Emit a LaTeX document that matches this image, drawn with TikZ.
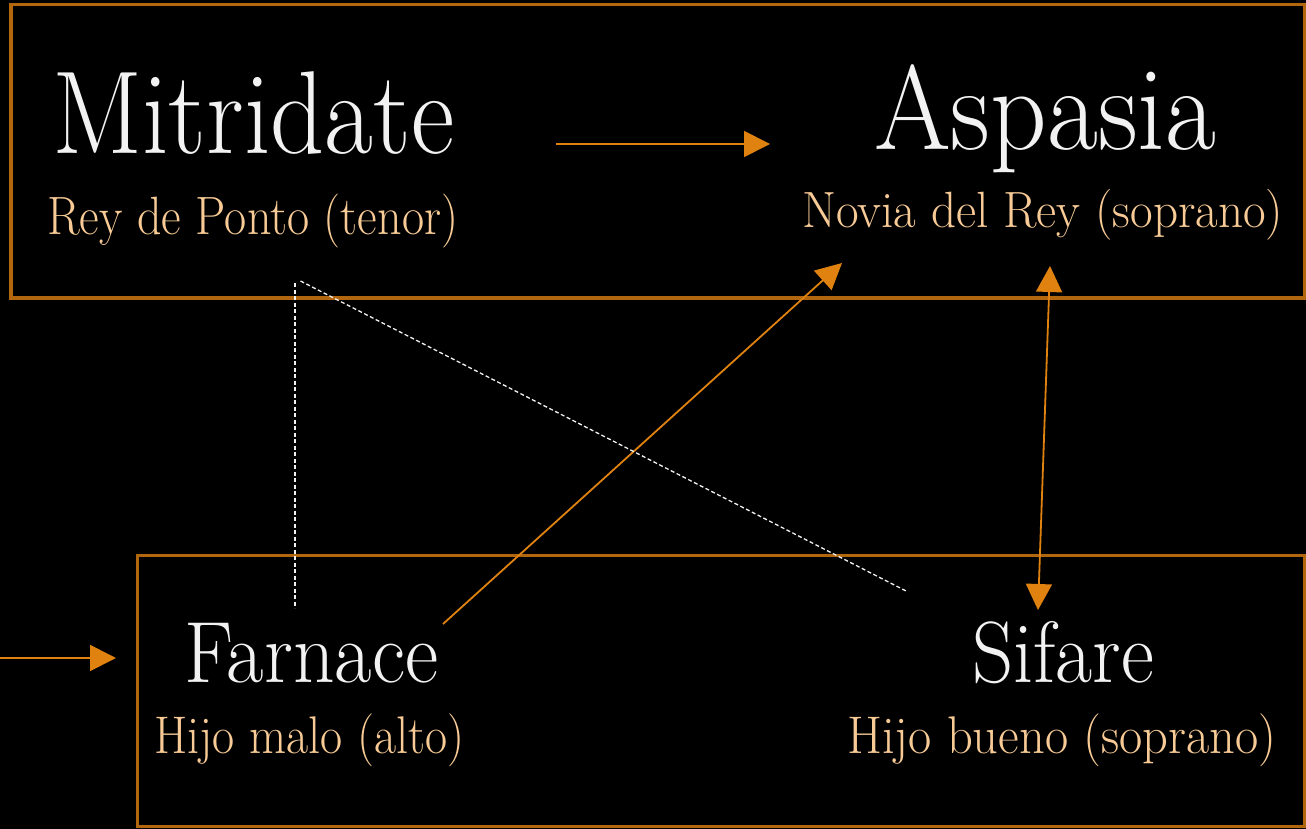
\documentclass[tikz,border=0pt]{standalone}
\usepackage{graphicx}
\usetikzlibrary{arrows.meta}
\definecolor{boxc}{HTML}{B2660E}
\definecolor{arrc}{HTML}{E0820F}
\definecolor{namec}{HTML}{F2F2F2}
\definecolor{subc}{HTML}{F8CB96}
\newcommand\fitname[3]{\resizebox{#1pt}{\height}{\fontsize{#2}{#2}\selectfont #3}}
\tikzset{
  frame/.style={draw=boxc, line width=3.5pt},
  namenode/.style={anchor=base west, inner sep=0pt, text=namec},
  subnode/.style={anchor=base west, inner sep=0pt, text=subc},
  rel/.style={draw=arrc, line width=1.8pt, -{Triangle[length=26pt,width=26pt]}},
  birel/.style={draw=arrc, line width=1.8pt, {Triangle[length=26pt,width=26pt]}-{Triangle[length=26pt,width=26pt]}},
  kin/.style={draw=namec, line width=1.3pt, dash pattern=on 4pt off 2.5pt}
}
\begin{document}
\begin{tikzpicture}[x=1pt,y=-1pt]
\fill[black] (0,0) rectangle (1306,829);
\useasboundingbox (0,0) rectangle (1306,829);
% boxes
\draw[frame] (11,4.5) rectangle (1304.5,298);
\draw[frame] (137.5,555.5) rectangle (1304.5,826.5);
% names
\node[namenode] (mit) at (52,154) {\fitname{402}{118}{Mitridate}};
\node[subnode] (mitsub) at (47,235) {\fitname{411}{54}{Rey de Ponto (tenor)}};
\node[namenode] (asp) at (874,150) {\fitname{342}{120}{Aspasia}};
\node[subnode] (aspsub) at (802,228) {\fitname{481}{51}{Novia del Rey (soprano)}};
\node[namenode] (far) at (184,682) {\fitname{254}{87}{Farnace}};
\node[subnode] (farsub) at (154,753) {\fitname{310}{53}{Hijo malo (alto)}};
\node[namenode] (sif) at (972,682) {\fitname{182}{87}{Sifare}};
\node[subnode] (sifsub) at (847,753) {\fitname{429}{53}{Hijo bueno (soprano)}};
% connector ends
\coordinate (m1) at (556,144);
\coordinate (a1) at (770,144);
\coordinate (in0) at (0,658);
\coordinate (in1) at (116,658);
\coordinate (f1) at (443,624);
\coordinate (a2) at (842,263);
\coordinate (a3) at (1050,266);
\coordinate (s1) at (1038,610);
\coordinate (m2) at (295,283);
\coordinate (f2) at (295,608);
\coordinate (m3) at (300.5,281);
\coordinate (s2) at (908,592);
% connectors
\draw[rel] (m1) -- (a1);
\draw[rel] (in0) -- (in1);
\draw[rel] (f1) -- (a2);
\draw[birel] (a3) -- (s1);
\draw[kin] (m2) -- (f2);
\draw[kin] (m3) -- (s2);
\end{tikzpicture}
\end{document}
